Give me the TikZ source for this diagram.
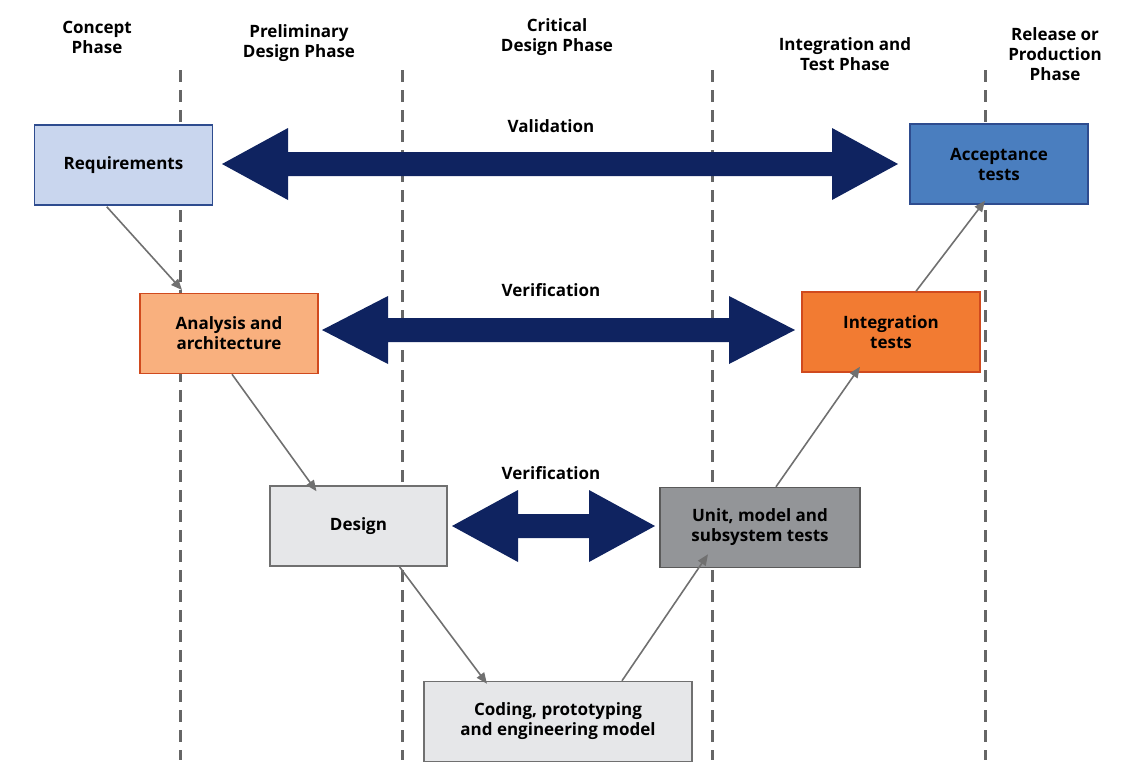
\documentclass[tikz,border=0pt]{standalone}
\usepackage{fontspec}
\setmainfont{Open Sans}
\usetikzlibrary{arrows.meta}
\definecolor{navy}{HTML}{0F2360}
\definecolor{reqf}{HTML}{C9D6EE}\definecolor{reqb}{HTML}{2E4C8F}
\definecolor{accf}{HTML}{4A7EBF}
\definecolor{anaf}{HTML}{F9B07E}\definecolor{redb}{HTML}{D04A1E}
\definecolor{intf}{HTML}{F27B32}
\definecolor{lgf}{HTML}{E6E7E9}\definecolor{gb}{HTML}{707070}
\definecolor{dgf}{HTML}{939598}
\begin{document}
\begin{tikzpicture}[x=1pt,y=-1pt,
  box/.style={draw,line width=1.5pt,minimum width=#1,minimum height=80pt,align=center,inner sep=2pt,font=\fontsize{17}{20}\selectfont\bfseries},
  box/.default=178pt,
  lbl/.style={font=\fontsize{17}{20}\selectfont\bfseries,align=center},
  phase/.style={gray!80!black,line width=3pt,dash pattern=on 12pt off 8pt},
  con/.style={draw=gb,line width=1.6pt,-{Triangle[length=11pt,width=9pt]}},
  big/.style={fill=navy}]
\useasboundingbox (0,0) rectangle (1136,769);
\foreach \x in {180,402,712,985} \draw[phase] (\x,70) -- (\x,760);
\node[lbl] at (97,37) {Concept\\Phase};
\node[lbl] at (299,43) {Preliminary\\Design Phase};
\node[lbl] at (557,37) {Critical\\Design Phase};
\node[lbl] at (845,54) {Integration and\\Test Phase};
\node[lbl] at (1055,54) {Release or\\Production\\Phase};
% big arrows
\fill[big] (222,164) -- (288,128) -- (288,152) -- (832,152) -- (832,128) -- (898,164) -- (832,200) -- (832,176) -- (288,176) -- (288,200) -- cycle;
\fill[big] (322,330) -- (388,296) -- (388,318) -- (729,318) -- (729,296) -- (795,330) -- (729,364) -- (729,342) -- (388,342) -- (388,364) -- cycle;
\fill[big] (452,526) -- (518,490) -- (518,514) -- (589,514) -- (589,490) -- (655,526) -- (589,562) -- (589,538) -- (518,538) -- (518,562) -- cycle;
\node[lbl] (val) at (551,126) {Validation};
\node[lbl] (ver1) at (551,290) {Verification};
\node[lbl] (ver2) at (551,473) {Verification};
% boxes
\node[box,fill=reqf,draw=reqb] (req) at (123.5,165) {Requirements};
\node[box,fill=accf,draw=reqb] (acc) at (999,164) {Acceptance\\tests};
\node[box,fill=anaf,draw=redb] (ana) at (229,333.5) {Analysis and\\architecture};
\node[box,fill=intf,draw=redb] (int) at (891,332) {Integration\\tests};
\node[box=177pt,fill=lgf,draw=gb] (des) at (358.5,526) {Design};
\node[box=200pt,fill=dgf,draw=gb!80!black] (unit) at (760,527.5) {Unit, model and\\subsystem tests};
\node[box=268pt,fill=lgf,draw=gb] (cod) at (558,721.5) {Coding, prototyping\\and engineering model};
% connectors
\draw[con] (req.south west) ++(73,1) coordinate (a1) -- (182,290);
\draw[con] ([xshift=3pt]ana.south) -- ([xshift=-42pt,yshift=-6pt]des.north);
\draw[con] ([xshift=41pt]des.south) -- ([xshift=-71pt,yshift=-3pt]cod.north);
\draw[con] ([xshift=64pt]cod.north) -- ([xshift=-52pt,yshift=14pt]unit.south);
\draw[con] ([xshift=16pt]unit.north) -- ([xshift=-31pt,yshift=6pt]int.south);
\draw[con] ([xshift=25pt]int.north) -- ([xshift=-14pt,yshift=4pt]acc.south);
\end{tikzpicture}
\end{document}
